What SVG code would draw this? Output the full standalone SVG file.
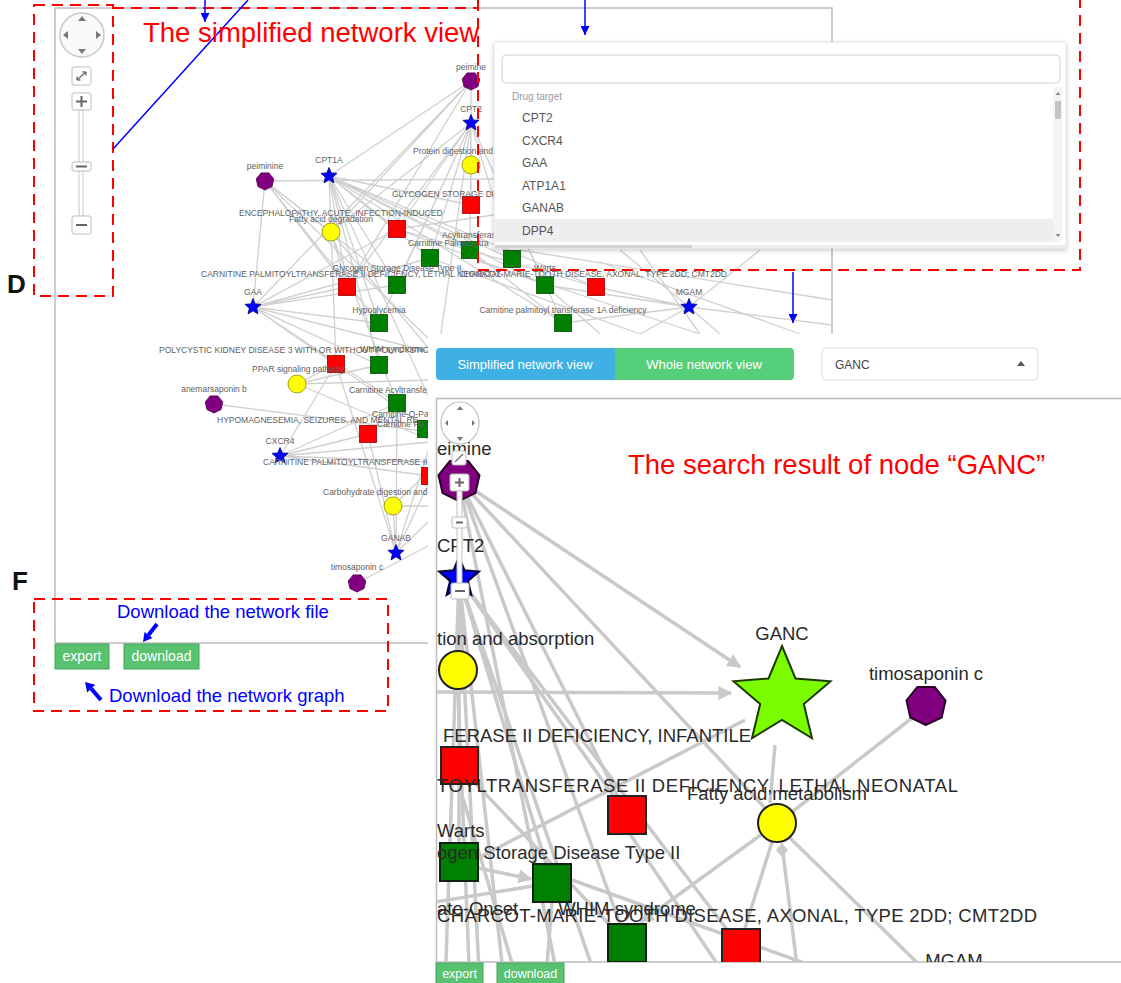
<svg xmlns="http://www.w3.org/2000/svg" width="1121" height="983" viewBox="0 0 1121 983">
<defs>
<style>
text{font-family:"Liberation Sans",Arial,Helvetica,sans-serif}
.e{stroke:#d0d0d0;stroke-width:1.3;fill:none}
.E{stroke:#c9c9c9;stroke-width:3.5;fill:none}
.fr{stroke:#bcbcbc;stroke-width:1.5;fill:none}
.l{font-size:8.5px;fill:#606060}
.lm{font-size:8.5px;fill:#606060;text-anchor:middle}
.L{font-size:18.5px;fill:#2a2a2a}
.Lm{font-size:18.5px;fill:#2a2a2a;text-anchor:middle}
.pu{fill:#800080;stroke:#4d004d;stroke-width:.8}
.bl{fill:#0000ff;stroke:#000080;stroke-width:.8}
.rd{fill:#ff0000;stroke:#990000;stroke-width:.8}
.gr{fill:#008000;stroke:#004d00;stroke-width:.8}
.ye{fill:#ffff00;stroke:#888800;stroke-width:.8}
.PU{fill:#800080;stroke:#2a002a;stroke-width:2}
.BL{fill:#0000ff;stroke:#000033;stroke-width:2}
.RD{fill:#ff0000;stroke:#222;stroke-width:2}
.GR{fill:#008000;stroke:#102010;stroke-width:2}
.YE{fill:#ffff00;stroke:#222;stroke-width:2}
.GC{fill:#7cfc00;stroke:#1c3a00;stroke-width:2}
.rdash{stroke:#ff0000;stroke-width:2;fill:none;stroke-dasharray:11 7}
.bline{stroke:#0000ff;stroke-width:1.5;fill:none}
.ctl{fill:#fff;stroke:#bdbdbd;stroke-width:1}
.ico{fill:#777}
.icol{stroke:#777;stroke-width:1.5;fill:none}
.btn{fill:#58c270;stroke:#44a45b;stroke-width:1}
.btxt{font-size:14px;fill:#fff;text-anchor:middle}
.dd{font-size:12px;fill:#555}
.ann{fill:#ff0000;font-size:27.5px}
.bann{fill:#0000ff;font-size:18.5px}
.lab{font-weight:bold;font-size:26px;fill:#111}
</style>
<path id="s8" d="M0,-8.5 L2.25,-3.09 L8.08,-2.63 L3.64,1.18 L5,6.88 L0,3.83 L-5,6.88 L-3.64,1.18 L-8.08,-2.63 L-2.25,-3.09Z"/>
<path id="s21" d="M0,-21 L5.55,-7.65 L19.97,-6.49 L8.99,2.92 L12.34,16.99 L0,9.45 L-12.34,16.99 L-8.99,2.92 L-19.97,-6.49 L-5.55,-7.65Z"/>
<path id="s51" d="M0,-51 L13.49,-18.57 L48.5,-15.76 L21.83,7.09 L29.98,41.26 L0,22.95 L-29.98,41.26 L-21.83,7.09 L-48.5,-15.76 L-13.49,-18.57Z"/>
<path id="h9" d="M0,9 L-7.04,5.61 L-8.77,-2 L-3.91,-8.11 L3.91,-8.11 L8.77,-2 L7.04,5.61Z"/>
<path id="h21" d="M0,21 L-16.42,13.09 L-20.47,-4.67 L-9.11,-18.92 L9.11,-18.92 L20.47,-4.67 L16.42,13.09Z"/>
<path id="h20" d="M0,20 L-15.64,12.47 L-19.5,-4.45 L-8.68,-18.02 L8.68,-18.02 L19.5,-4.45 L15.64,12.47Z"/>
<marker id="ba" viewBox="0 0 10 10" refX="10" refY="5" markerWidth="9" markerHeight="9" markerUnits="userSpaceOnUse" orient="auto"><path d="M0,0 L10,5 L0,10Z" fill="#0000ff"/></marker>
<marker id="ga" viewBox="0 0 10 10" refX="9" refY="5" markerWidth="14" markerHeight="14" markerUnits="userSpaceOnUse" orient="auto"><path d="M0,0 L10,5 L0,10Z" fill="#c9c9c9"/></marker>
<filter id="sh" x="-5%" y="-10%" width="110%" height="125%"><feDropShadow dx="0" dy="2" stdDeviation="2.5" flood-color="#000" flood-opacity="0.2"/></filter>
<clipPath id="rc"><rect x="437" y="399" width="684" height="563"/></clipPath>
</defs>

<rect x="0" y="0" width="1121" height="983" fill="#fff"/>

<!-- left panel frame -->
<g id="left-frame">
<path class="fr" d="M55,643 V8 H832 V334"/>
<path class="fr" d="M55,643 H430"/>
</g>

<!-- left network connectors -->
<g id="left-edges">
<path class="e" d="M471,81 L329,176 M471,81 L331,232 M471,81 L347,287 M471,81 L471,123 M471,81 L253,307"/>
<path class="e" d="M471,123 L471,165 M471,123 L471,205 M471,123 L331,232 M471,123 L397,229 M471,123 L430,258 M471,123 L470,250 M471,123 L397,285 M471,123 L347,287 M471,123 L379,323 M471,123 L545,285 M471,123 L563,323 M471,123 L512,259 M471,123 L440,340"/>
<path class="e" d="M329,176 L397,229 M329,176 L430,258 M329,176 L470,250 M329,176 L397,285 M329,176 L347,287 M329,176 L379,323 M329,176 L545,285 M329,176 L596,287 M329,176 L563,323 M329,176 L379,365 M329,176 L430,400 M329,176 L512,259 M329,176 L471,205 M329,176 L336,364"/>
<path class="e" d="M265,181 L494,179 M265,181 L253,307 M265,181 L331,232 M265,181 L347,287 M265,181 L397,285 M265,181 L379,323 M265,181 L430,340"/>
<path class="e" d="M253,307 L397,229 M253,307 L430,258 M253,307 L397,285 M253,307 L379,323 M253,307 L336,364 M253,307 L379,365 M253,307 L397,403 M253,307 L430,352 M253,307 L430,430 M253,307 L347,287"/>
<path class="e" d="M331,232 L347,287 M331,232 L430,350 M331,232 L397,403"/>
<path class="e" d="M689,307 L596,287 M689,307 L545,285 M689,307 L563,323 M689,307 L620,250 M689,307 L760,250 M689,307 L832,325 M689,307 L640,334 M689,307 L720,334"/>
<path class="e" d="M297,384 L336,364 M297,384 L379,365 M297,384 L430,380 M297,384 L430,440 M214,404 L430,432"/>
<path class="e" d="M280,456 L368,434 M280,456 L397,403 M280,456 L430,442 M280,456 L430,476 M280,456 L336,364 M280,456 L430,462"/>
<path class="e" d="M396,553 L393,506 M396,553 L368,434 M396,553 L430,480 M396,553 L430,520 M396,553 L397,403 M396,553 L430,445 M396,553 L336,364 M357,583 L430,545 M393,506 L430,506 M393,506 L430,470"/>
<path class="e" d="M397,229 L596,287 M397,229 L545,285 M397,229 L494,215 M480,262 L700,334 M520,250 L832,300 M600,262 L800,334 M640,250 L700,334 M430,258 L640,334 M470,250 L563,323 M545,285 L600,334"/>
</g>

<!-- left network nodes -->
<g id="n-peimine"><use href="#h9" x="471" y="81" class="pu"/><text class="lm" x="471" y="70">peimine</text></g>
<g id="n-cpt2"><use href="#s8" x="471" y="123" class="bl"/><text class="lm" x="471" y="112">CPT2</text></g>
<g id="n-protein"><circle cx="471" cy="165" r="9" class="ye"/><text class="l" x="413" y="154">Protein digestion and</text></g>
<g id="n-cpt1a"><use href="#s8" x="329" y="176" class="bl"/><text class="lm" x="329" y="163">CPT1A</text></g>
<g id="n-peiminine"><use href="#h9" x="265" y="181" class="pu"/><text class="lm" x="265" y="169">peiminine</text></g>
<g id="n-glycogen"><rect x="462.5" y="196.5" width="17" height="17" class="rd"/><text class="l" x="392" y="197">GLYCOGEN STORAGE DI</text></g>
<g id="n-enceph"><rect x="388.5" y="220.5" width="17" height="17" class="rd"/><text class="l" x="239" y="216">ENCEPHALOPATHY, ACUTE, INFECTION-INDUCED</text></g>
<g id="n-fatty-deg"><circle cx="331" cy="232" r="9" class="ye"/><text class="lm" x="331" y="222">Fatty acid degradation</text></g>
<g id="n-acyl"><rect x="461.5" y="241.5" width="17" height="17" class="gr"/><text class="l" x="442" y="238">Acyltransferas</text></g>
<g id="n-cpalm"><rect x="421.5" y="249.5" width="17" height="17" class="gr"/><text class="l" x="408" y="246">Carnitine Palmitoyltra</text></g>
<g id="n-g3"><rect x="503.5" y="250.5" width="17" height="17" class="gr"/></g>
<g id="n-cpt2-neo"><rect x="338.5" y="278.5" width="17" height="17" class="rd"/><text class="l" x="201" y="277">CARNITINE PALMITOYLTRANSFERASE II DEFICIENCY, LETHAL NEONATAL</text></g>
<g id="n-gsd2"><rect x="388.5" y="276.5" width="17" height="17" class="gr"/><text class="lm" x="397" y="271">Glycogen Storage Disease Type II</text></g>
<g id="n-warts"><rect x="536.5" y="276.5" width="17" height="17" class="gr"/><text class="lm" x="545" y="271">Warts</text></g>
<g id="n-cmt2dd"><rect x="587.5" y="278.5" width="17" height="17" class="rd"/><text class="l" x="727" y="277" text-anchor="end">CHARCOT-MARIE-TOOTH DISEASE, AXONAL, TYPE 2DD; CMT2DD</text></g>
<g id="n-gaa"><use href="#s8" x="253" y="307" class="bl"/><text class="lm" x="253" y="295">GAA</text></g>
<g id="n-mgam"><use href="#s8" x="689" y="307" class="bl"/><text class="lm" x="689" y="295">MGAM</text></g>
<g id="n-hypo"><rect x="370.5" y="314.5" width="17" height="17" class="gr"/><text class="lm" x="379" y="313">Hypoglycemia</text></g>
<g id="n-cpt1a-def"><rect x="554.5" y="314.5" width="17" height="17" class="gr"/><text class="lm" x="563" y="313">Carnitine palmitoyl transferase 1A deficiency</text></g>
<g id="n-pkd"><rect x="327.5" y="355.5" width="17" height="17" class="rd"/><text class="l" x="159" y="353">POLYCYSTIC KIDNEY DISEASE 3 WITH OR WITHOUT POLYCYSTIC</text></g>
<g id="n-whim"><rect x="370.5" y="356.5" width="17" height="17" class="gr"/><text class="lm" x="392" y="352">WHIM syndrome</text></g>
<g id="n-ppar"><circle cx="297" cy="384" r="9" class="ye"/><text class="l" x="252" y="372">PPAR signaling pathway</text></g>
<g id="n-anem"><use href="#h9" x="214" y="404" class="pu"/><text class="lm" x="214" y="392">anemarsaponin b</text></g>
<g id="n-cacyl"><rect x="388.5" y="394.5" width="17" height="17" class="gr"/><text class="l" x="349" y="393">Carnitine Acyltransfe</text></g>
<g id="n-hypomag"><rect x="359.5" y="425.5" width="17" height="17" class="rd"/><text class="l" x="217" y="423">HYPOMAGNESEMIA, SEIZURES, AND MENTAL RE</text></g>
<g id="n-cop"><rect x="417.5" y="420.5" width="17" height="17" class="gr"/><text class="l" x="372" y="417">Carnitine-O-Pa</text><text class="l" x="377" y="427">Carnitine Pa</text></g>
<g id="n-cxcr4"><use href="#s8" x="280" y="456" class="bl"/><text class="lm" x="280" y="444">CXCR4</text></g>
<g id="n-cpt2d"><rect x="421.5" y="467.5" width="17" height="17" class="rd"/><text class="l" x="263" y="465">CARNITINE PALMITOYLTRANSFERASE II D</text></g>
<g id="n-carbo"><circle cx="393" cy="506" r="9" class="ye"/><text class="l" x="323" y="495">Carbohydrate digestion and a</text></g>
<g id="n-ganab"><use href="#s8" x="396" y="553" class="bl"/><text class="lm" x="396" y="541">GANAB</text></g>
<g id="n-timo"><use href="#h9" x="357" y="583" class="pu"/><text class="lm" x="357" y="570">timosaponin c</text></g>

<!-- left zoom controls -->
<g id="left-controls">
<circle cx="82" cy="35" r="22" fill="#fafafa" stroke="#c8c8c8" stroke-width="1.5"/>
<path class="ico" d="M78,21 H86 L82,16Z M78,49 H86 L82,54Z M68,31 V39 L63,35Z M96,31 V39 L101,35Z"/>
<rect class="ctl" x="72" y="67" width="19" height="18" rx="2"/>
<path class="icol" d="M77,80 L86,72 M77,80 l0,-3.5 M77,80 l3.5,0 M86,72 l-3.5,0 M86,72 l0,3.5"/>
<rect class="ctl" x="72" y="93" width="19" height="17" rx="2"/>
<path stroke="#666" stroke-width="2" d="M76,101.5 H87 M81.5,96 V107"/>
<rect x="79" y="110" width="4" height="106" fill="#fff" stroke="#c8c8c8" stroke-width="1"/>
<rect class="ctl" x="72" y="162" width="19" height="9" rx="2"/>
<path stroke="#666" stroke-width="2" d="M76,166.5 H87"/>
<rect class="ctl" x="72" y="216" width="19" height="18" rx="2"/>
<path stroke="#666" stroke-width="2" d="M76,225 H87"/>
</g>

<!-- dropdown -->
<g id="dropdown">
<rect x="494" y="42" width="572" height="206" fill="#fff" stroke="#e2e2e2" filter="url(#sh)"/>
<rect x="502" y="55" width="558" height="28" rx="4" fill="#fff" stroke="#cfcfcf"/>
<text x="512" y="100" font-size="10" fill="#9a9a9a">Drug target</text>
<rect x="495" y="219" width="558" height="23" fill="#eeeeee"/>
<text class="dd" x="522" y="122">CPT2</text>
<text class="dd" x="522" y="145">CXCR4</text>
<text class="dd" x="522" y="167">GAA</text>
<text class="dd" x="522" y="190">ATP1A1</text>
<text class="dd" x="522" y="212">GANAB</text>
<text class="dd" x="522" y="235">DPP4</text>
<rect x="1053" y="87" width="9" height="155" fill="#f3f3f3"/>
<rect x="1055" y="101" width="6" height="18" fill="#c4c4c4"/>
<path fill="#888" d="M1055.5,95 h5 l-2.5,-3z M1055.5,234 h5 l-2.5,3z"/>
<rect x="495" y="245" width="571" height="3" fill="#ececec"/>
<rect x="495" y="245" width="197" height="3" fill="#d2d2d2"/>
</g>

<!-- right panel (search result) -->
<g id="right-panel">
<rect x="428" y="334" width="693" height="649" fill="#fff"/>
<g id="view-buttons">
<path d="M440,348 H615 V380 H440 A4,4 0 0 1 436,376 V352 A4,4 0 0 1 440,348Z" fill="#3fb0e4"/>
<path d="M615,348 H790 A4,4 0 0 1 794,352 V376 A4,4 0 0 1 790,380 H615Z" fill="#55cf79"/>
<text x="525" y="369" font-size="13" fill="#fff" text-anchor="middle">Simplified network view</text>
<text x="704" y="369" font-size="13" fill="#fff" text-anchor="middle">Whole network view</text>
</g>
<g id="select-box">
<rect x="822" y="348" width="216" height="32" rx="4" fill="#fff" stroke="#dcdcdc"/>
<text x="835" y="369" font-size="12" fill="#444">GANC</text>
<path d="M1017,366 H1025 L1021,361Z" fill="#555"/>
</g>
<rect x="436.5" y="398.5" width="700" height="563.5" fill="none" stroke="#bcbcbc" stroke-width="1.5"/>

<g clip-path="url(#rc)">
<g id="right-edges">
<path class="E" d="M459,480 L627,815 M459,480 L765,808 M459,480 L627,943 M459,480 L560,990 M459,480 L459,578"/>
<path class="E" d="M459,578 L458,670 M459,578 L459,766 M459,578 L459,862 M459,578 L552,883 M459,578 L627,815 M459,578 L505,990 M459,578 L445,990 M459,578 L600,990 M459,578 L741,948 M459,578 L480,990"/>
<path class="E" d="M775,745 L770,803 M745,720 L478,858 M912,718 L792,812 M790,838 L945,990 M782,845 L800,990 M772,842 L745,928 M630,834 L716,962 M572,880 L880,990 M458,689 L470,990 M459,785 L520,990 M459,766 L627,943 M552,902 L545,990 M436,902 L533,886"/>
<path class="E" d="M459,480 L740,667" marker-end="url(#ga)"/>
<path class="E" d="M436,692 L731,693" marker-end="url(#ga)"/>
<path class="E" d="M762,834 L641,922" marker-end="url(#ga)"/>
<path class="E" d="M478,868 L531,879" marker-end="url(#ga)"/>
<path d="M782,843 L788,850 L782,857 L776,850Z" fill="#c9c9c9"/>
</g>
<g id="r-peimine"><use href="#h21" x="459" y="480" class="PU"/><text class="L" x="437" y="455">eimine</text></g>
<g id="r-cpt2"><use href="#s21" x="459" y="578" class="BL"/><text class="L" x="437" y="552">CPT2</text></g>
<g id="r-absorption"><circle cx="458" cy="670" r="19" class="YE"/><text class="L" x="437" y="645">tion and absorption</text></g>
<g id="r-ganc"><use href="#s51" x="782" y="697" class="GC"/><text class="Lm" x="782" y="640">GANC</text></g>
<g id="r-timo"><use href="#h20" x="926" y="705" class="PU"/><text class="Lm" x="926" y="680">timosaponin c</text></g>
<g id="r-infantile"><rect x="441" y="747" width="37" height="37" class="RD"/><text class="L" x="443" y="742">FERASE II DEFICIENCY, INFANTILE</text></g>
<g id="r-neonatal"><rect x="608" y="796" width="38" height="38" class="RD"/><text class="L" x="437" y="792" textLength="521">TOYLTRANSFERASE II DEFICIENCY, LETHAL NEONATAL</text></g>
<g id="r-fatty"><circle cx="777" cy="823" r="19" class="YE"/><text class="Lm" x="777" y="800">Fatty acid metabolism</text></g>
<g id="r-warts"><rect x="440" y="843" width="38" height="38" class="GR"/><text class="L" x="437" y="837">Warts</text></g>
<g id="r-gsd"><rect x="533" y="864" width="38" height="38" class="GR"/><text class="L" x="437" y="859">ogen Storage Disease Type II</text></g>
<g id="r-whim"><rect x="608" y="924" width="38" height="38" class="GR"/><text class="L" x="437" y="915">ate-Onset</text><text class="Lm" x="627" y="915">WHIM syndrome</text></g>
<g id="r-cmt"><rect x="722" y="929" width="38" height="38" class="RD"/><text class="L" x="437" y="922" textLength="600">CHARCOT-MARIE-TOOTH DISEASE, AXONAL, TYPE 2DD; CMT2DD</text></g>
<g id="r-mgam"><text class="Lm" x="954" y="967">MGAM</text></g>
</g>

<g id="right-controls">
<ellipse cx="460" cy="423" rx="19" ry="21" fill="#fff" fill-opacity="0.6" stroke="#bdbdbd" stroke-width="1.2"/>
<path class="ico" d="M457,410 H463 L460,406Z M457,437 H463 L460,441Z M448,420 V426 L445,423Z M472,420 V426 L475,423Z"/>
<rect class="ctl" x="452" y="451" width="14" height="14" rx="2"/>
<path class="icol" stroke-width="1.2" d="M455,462 L463,454"/>
<rect class="ctl" x="450" y="474" width="19" height="17" rx="2"/>
<path stroke="#666" stroke-width="2" d="M455,482.5 H464 M459.5,478 V487"/>
<rect x="457" y="491" width="5" height="92" fill="#fff" stroke="#bdbdbd" stroke-width="1"/>
<rect class="ctl" x="452" y="517" width="15" height="11" rx="2"/>
<path stroke="#666" stroke-width="2" d="M456,522.5 H463"/>
<rect class="ctl" x="451" y="583" width="18" height="16" rx="2"/>
<path stroke="#666" stroke-width="2" d="M455,591 H465"/>
</g>

<g id="right-buttons">
<rect class="btn" x="436" y="963" width="47" height="21"/>
<text x="459.5" y="978" font-size="12.5" fill="#fff" text-anchor="middle">export</text>
<rect class="btn" x="497" y="963" width="67" height="21"/>
<text x="530.5" y="978" font-size="12.5" fill="#fff" text-anchor="middle">download</text>
</g>
</g>

<!-- left bottom buttons -->
<g id="left-buttons">
<rect class="btn" x="55" y="644" width="54" height="25"/>
<text class="btxt" x="82" y="661">export</text>
<rect class="btn" x="124" y="644" width="75" height="25"/>
<text class="btxt" x="161.5" y="661">download</text>
</g>

<!-- annotations -->
<g id="annotations">
<rect class="rdash" x="34" y="5" width="79" height="291"/>
<path class="rdash" d="M113,8 H478 M478,0 V270 H1080 V0"/>
<rect class="rdash" x="34" y="599" width="354" height="112"/>
<path class="bline" d="M205,0 V22" marker-end="url(#ba)"/>
<path class="bline" d="M248,0 L113,149"/>
<path class="bline" d="M585,0 V35" marker-end="url(#ba)"/>
<path class="bline" d="M793,272 V323" marker-end="url(#ba)"/>
<text class="ann" x="143" y="42">The simplified network view</text>
<text class="ann" x="628" y="474">The search result of node “GANC”</text>
<text class="bann" x="117" y="618">Download the network file</text>
<text class="bann" x="109" y="702">Download the network graph</text>
<path d="M157,624 L148.5,634.9" stroke="#0000ff" stroke-width="4"/>
<path d="M143,642 L152.5,637.9 L144.5,631.9Z" fill="#0000ff"/>
<path d="M101,700 L91.2,688.6" stroke="#0000ff" stroke-width="4"/>
<path d="M85,682 L95.2,684.8 L87.2,692.4Z" fill="#0000ff"/>
<text class="lab" x="7" y="293">D</text>
<text class="lab" x="12" y="590" font-size="25">F</text>
</g>
</svg>
